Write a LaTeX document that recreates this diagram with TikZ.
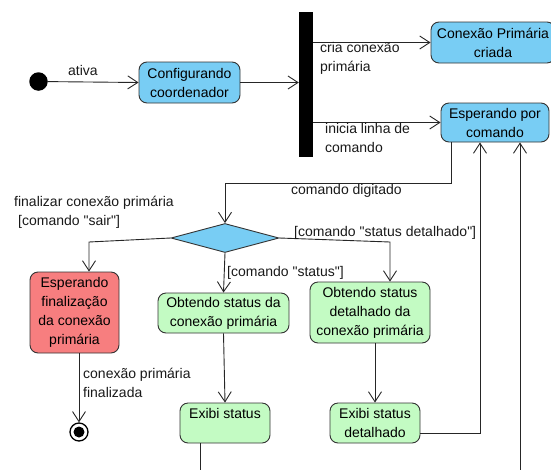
\documentclass[tikz,border=0pt]{standalone}
\usepackage{fontspec}
\setmainfont{Liberation Sans}[Ligatures=TeXOff]
\usetikzlibrary{arrows.meta,shapes.geometric}
\definecolor{stblue}{HTML}{78CDF4}
\definecolor{stred}{HTML}{F77E7F}
\definecolor{stgreen}{HTML}{C3FBC3}
\begin{document}
\begin{tikzpicture}[x=1pt,y=-1pt,
  font=\fontsize{14}{19}\selectfont,
  state/.style={draw=black!80, line width=0.9pt, rounded corners=8pt,
                align=center, inner sep=2pt},
  flow/.style={draw=black!85, line width=0.9pt,
               -{Straight Barb[length=10pt,width=13pt,line width=0.9pt]}},
  plain/.style={draw=black!85, line width=0.9pt},
  lbl/.style={align=left, inner sep=0pt, text=black!90}
]
\useasboundingbox (0,0) rectangle (551,469);
\clip (0,0) rectangle (551,469);

% states
\node[circle, fill=black, minimum size=18.5pt, inner sep=0pt] (start) at (38.5,81.5) {};
\node[state, fill=stblue, minimum width=101pt, minimum height=41pt] (conf) at (189.5,82.5)
  {Configurando\\coordenador};
\node[fill=black, minimum width=14pt, minimum height=145pt, inner sep=0pt] (bar) at (306,84.5) {};
\node[state, fill=stblue, minimum width=124pt, minimum height=41pt] (cpc) at (493,42.5)
  {Conexão Primária\\criada};
\node[state, fill=stblue, minimum width=108pt, minimum height=39pt] (esp) at (495,122.5)
  {Esperando por\\comando};
\node[diamond, draw=black!80, line width=0.9pt, fill=stblue, minimum width=108pt,
      minimum height=29pt, inner sep=0pt] (dec) at (225,238) {};
\node[state, fill=stred, minimum width=89pt, minimum height=81pt] (red) at (74.5,312.5)
  {Esperando\\finalização\\da conexão\\primária};
\node[circle, draw=black, line width=1.3pt, fill=white, minimum size=18pt, inner sep=0pt]
  (fin) at (79,432) {};
\fill (fin.center) circle (5.5pt);
\node[state, fill=stgreen, minimum width=131pt, minimum height=40pt] (obt1) at (223.5,313)
  {Obtendo status da\\conexão primária};
\node[state, fill=stgreen, minimum width=90pt, minimum height=40pt] (exi1) at (225,423)
  {Exibi status\\\mbox{}};
\node[state, fill=stgreen, minimum width=120pt, minimum height=61pt] (obt2) at (370,312.5)
  {Obtendo status\\detalhado da\\conexão primária};
\node[state, fill=stgreen, minimum width=90pt, minimum height=40pt] (exi2) at (375,423)
  {Exibi status\\detalhado};

% bend points and loose ends
\coordinate (eo) at (451,183);
\coordinate (rin) at (89,242);
\coordinate (dr) at (390,242);
\coordinate (r1) at (480,433);
\coordinate (r2) at (520,475);
\coordinate (e1o) at (200,475);

% transitions
\draw[flow] (start) -- (conf.west);
\draw[flow] (conf.east) -- (conf.east -| bar.west);
\draw[flow] (bar.east |- cpc.west) -- (cpc.west);
\draw[flow] (bar.east |- esp.west) -- (esp.west);
\draw[flow] (esp.south -| eo) -- (eo) -- (eo -| dec.north) -- (dec.north);
\draw[flow] (dec.west) -- (rin) -- (rin |- red.north);
\draw[flow] (dec.east) -- (dr) -- (dr |- obt2.north);
\draw[flow] (dec.south) -- (obt1.north);
\draw[flow] (red.south -| fin) -- (fin.north);
\draw[flow] (obt1.south) -- (exi1.north);
\draw[plain] (exi1.south -| e1o) -- (e1o);
\draw[flow] (obt2.south -| exi2.north) -- (exi2.north);
\draw[flow] (exi2.east |- r1) -- (r1) -- (r1 |- esp.south);
\draw[flow] (r2) -- (r2 |- esp.south);

% transition labels
\node[lbl] (lativa) at (83,70) {ativa};
\node[lbl, anchor=west] (lcria) at (320,58) {cria conexão\\primária};
\node[lbl, anchor=west] (linicia) at (325,138) {inicia linha de\\comando};
\node[lbl, anchor=west] (ldig) at (291,191) {comando digitado};
\node[lbl, anchor=west] (lsair) at (14,212.5)
  {finalizar conexão primária\\\hspace{4pt}[comando "sair"]};
\node[lbl, anchor=west] (lstat) at (227,273) {[comando "status"]};
\node[lbl, anchor=west] (ldet) at (294,233) {[comando "status detalhado"]};
\node[lbl, anchor=west] (lfin) at (83,382.5) {conexão primária\\finalizada};
\end{tikzpicture}
\end{document}
